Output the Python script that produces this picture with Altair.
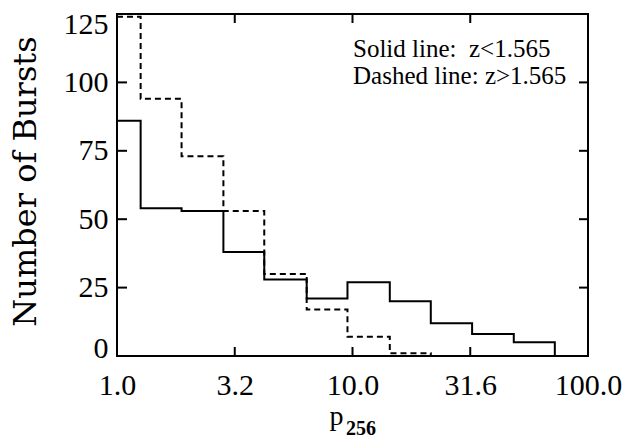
import altair as alt
import pandas as pd

# Bin edges (p256, log scale) and histogram counts
edges_solid = [1.0, 1.26, 1.88, 2.83, 4.22, 6.39, 9.52, 14.4, 21.5, 32.2, 48.4, 72.3]
counts_solid = [86, 54, 53, 38, 28, 21, 27, 20, 12, 8, 5, 0]
edges_dashed = [1.0, 1.26, 1.88, 2.83, 4.22, 6.39, 9.52, 14.4, 21.5]
counts_dashed = [124, 94, 73, 53, 30, 17, 7, 1, 0]

x_ticks = [1.0, 3.1623, 10.0, 31.623, 100.0]
y_ticks = [0, 25, 50, 75, 100, 125]
legend_lines = ["Solid line:\u00a0\u00a0z<1.565", "Dashed line: z>1.565"]
x_title = "p"
x_title_sub = "256"

W, H = 471, 342
TICK = 9

df_solid = pd.DataFrame({"p": edges_solid, "n": counts_solid})
df_dashed = pd.DataFrame({"p": edges_dashed, "n": counts_dashed})
df_xt = pd.DataFrame({"p": x_ticks})
df_yt = pd.DataFrame({"n": y_ticks})
df_leg = pd.DataFrame({"label": ["\n".join(legend_lines)]})
df_sub = pd.DataFrame({"label": [x_title_sub]})

xscale = alt.Scale(type="log", domain=[1, 100], nice=False)
yscale = alt.Scale(domain=[0, 125], nice=False, zero=False)

xaxis = alt.Axis(
    values=x_ticks, format=".1f", ticks=False, tickSize=0, domain=False, grid=False,
    labelFlush=False,
    labelFont="Liberation Serif", labelFontSize=30, labelColor="black", labelPadding=14,
    title=x_title, titleFont="Liberation Serif", titleFontSize=28,
    titleFontWeight="normal", titleColor="black", titleBaseline="alphabetic",
    titleAlign="left", titleAnchor="start", titleX=212, titleY=68,
)
yaxis = alt.Axis(
    values=y_ticks, format="d", ticks=False, tickSize=0, domain=False, grid=False,
    labelFlush=False,
    labelFont="Liberation Serif", labelFontSize=30, labelColor="black", labelPadding=9,
    labelOffset={"condition": [{"test": "datum.value == 0", "value": -8},
                               {"test": "datum.value == 125", "value": 10}], "value": 0},
    title="Number of Bursts", titleFont="DejaVu Serif", titleFontSize=32,
    titleFontWeight="normal", titleColor="black", titleBaseline="alphabetic",
    titleX=-82, titleY=167,
)

X = alt.X("p:Q", scale=xscale, axis=xaxis)
Y = alt.Y("n:Q", scale=yscale, axis=yaxis)

solid = alt.Chart(df_solid).mark_line(interpolate="step-after", color="black", strokeWidth=2).encode(
    x=X, y=Y)
dashed = alt.Chart(df_dashed).mark_line(interpolate="step-after", color="black", strokeWidth=2,
                                        strokeDash=[6, 4]).encode(x=X, y=Y)

tick_style = dict(color="black", strokeWidth=2)
xt_bottom = alt.Chart(df_xt).mark_rule(**tick_style).encode(
    x=X, y=alt.value(H), y2=alt.value(H - TICK))
xt_top = alt.Chart(df_xt).mark_rule(**tick_style).encode(
    x=X, y=alt.value(0), y2=alt.value(TICK))
yt_left = alt.Chart(df_yt).mark_rule(**tick_style).encode(
    y=Y, x=alt.value(0), x2=alt.value(TICK + 1))
yt_right = alt.Chart(df_yt).mark_rule(**tick_style).encode(
    y=Y, x=alt.value(W), x2=alt.value(W - TICK))

legend = alt.Chart(df_leg).mark_text(
    align="left", baseline="alphabetic", font="Liberation Serif", fontSize=25,
    color="black", lineBreak="\n", lineHeight=27,
).encode(text="label:N", x=alt.value(236), y=alt.value(43))

# subscript of the x-axis title (p_256)
sub = alt.Chart(df_sub).mark_text(
    align="left", baseline="alphabetic", font="Liberation Serif", fontSize=20,
    fontWeight="bold", color="black",
).encode(text="label:N", x=alt.value(229), y=alt.value(421))

chart = alt.layer(solid, dashed, xt_bottom, xt_top, yt_left, yt_right, legend, sub).properties(
    width=W, height=H,
    autosize=alt.AutoSizeParams(type="none"),
    padding={"left": 117, "top": 14, "right": 48, "bottom": 82},
    background="white",
).configure_view(stroke="black", strokeWidth=2)

chart.save("out.html", embed_options={"renderer": "svg", "actions": False})
